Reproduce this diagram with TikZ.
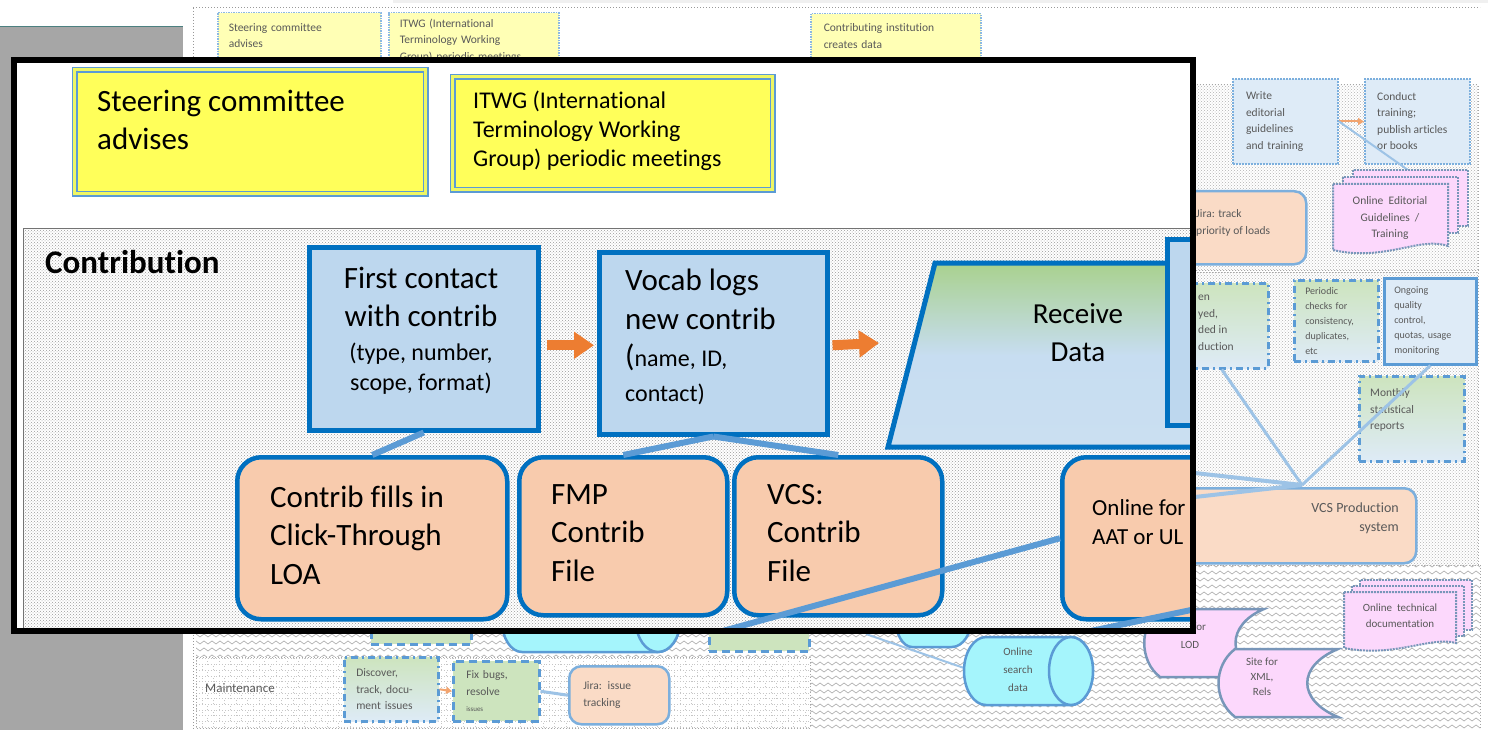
\documentclass[tikz,border=0pt]{standalone}
\usepackage{fontspec}
\setmainfont[Ligatures={NoCommon}]{Carlito}
\usetikzlibrary{arrows.meta, patterns, calc}

\definecolor{cblue}{RGB}{0,112,192}
\definecolor{lblue}{RGB}{189,215,238}
\definecolor{corange}{RGB}{248,203,173}
\definecolor{cyellow}{RGB}{255,255,90}
\definecolor{linkblue}{RGB}{91,155,213}
\definecolor{arrorange}{RGB}{237,125,49}
\definecolor{cgreen}{RGB}{169,209,142}
\definecolor{pgreen}{RGB}{205,228,190}
\definecolor{pblue}{RGB}{222,235,247}
\definecolor{cpink}{RGB}{252,216,252}
\definecolor{ccyan}{RGB}{165,245,252}
\definecolor{sidegray}{RGB}{166,166,166}
\definecolor{docedge}{RGB}{120,150,185}

\newcommand\bigtxt{\fontsize{31}{38.5}\selectfont}
\newcommand\midtxt{\fontsize{24}{30}\selectfont}
\newcommand\medtxt{\fontsize{24}{29}\selectfont}
\newcommand\bgtxt{\fontsize{11.5}{16.5}\selectfont}

\pgfdeclarepatternformonly{wavyzig}{\pgfqpoint{-1pt}{-1pt}}{\pgfqpoint{9pt}{8pt}}{\pgfqpoint{8pt}{7pt}}{%
  \pgfsetlinewidth{0.7pt}
  \pgfpathmoveto{\pgfqpoint{0pt}{2pt}}
  \pgfpathlineto{\pgfqpoint{4pt}{5pt}}
  \pgfpathlineto{\pgfqpoint{8pt}{2pt}}
  \pgfusepath{stroke}
}

\tikzset{
  yellowbox/.style={draw=linkblue, double=cyellow!80!cgreen, double distance=3pt, line width=1.5pt, fill=cyellow, anchor=north west},
  bluebox/.style={draw=cblue, line width=4.5pt, fill=lblue, anchor=north west},
  orangebox/.style={draw=cblue, line width=4.5pt, fill=corange, rounded corners=24pt, anchor=north west},
  bigtext/.style={font=\bigtxt, align=left, inner sep=0pt},
  link/.style={draw=linkblue, line width=6pt},
  flowarrow/.style={draw=arrorange, line width=10pt, -{Triangle[length=20pt,width=26pt]}},
  bgfont/.style={font=\bgtxt, text=black!65, align=left},
  bgyellow/.style={draw=linkblue!70, densely dotted, line width=1.5pt, fill=cyellow!45, anchor=north west},
  bgblue/.style={draw=linkblue!80, densely dotted, line width=2pt, fill=pblue, anchor=north west},
  bgsolid/.style={draw=linkblue, line width=2.5pt, fill=pblue, anchor=north west},
  bggreen/.style={draw=linkblue, line width=2.5pt, dash pattern=on 7pt off 4pt on 2pt off 4pt, top color=pgreen, bottom color=pblue, anchor=north west},
  bgdash/.style={draw=linkblue, line width=2.5pt, dash pattern=on 8pt off 5pt, fill=pgreen, anchor=north west},
  bgorange/.style={draw=linkblue!80, line width=2.5pt, fill=corange!70, rounded corners=12pt, anchor=north west},
  bglink/.style={draw=linkblue!60, line width=3pt},
  bgarrow/.style={draw=arrorange!70, line width=2pt, -{Triangle[length=6pt,width=7pt]}},
  docsheet/.style={draw=docedge, densely dotted, line width=2pt, fill=cpink},
  cyl/.style={draw=linkblue, line width=2.5pt, fill=ccyan},
  lane/.style={draw=gray!70, dotted, line width=1pt, preaction={fill=white}, pattern=crosshatch dots, pattern color=gray!60},
}

\begin{document}
\begin{tikzpicture}[x=1pt, y=-1pt]
\useasboundingbox (0,0) rectangle (1488,730);

% slide behind the callout
\fill[gray!12] (393,0) rectangle (1488,3);
\fill[sidegray] (0,27) rectangle (183,730);
\draw[gray!60!teal, line width=1pt] (0,27) -- (183,27);
\draw[gray!80, dotted, line width=1pt] (193,8) -- (1480,8);
\draw[gray!80, dotted, line width=1pt] (193,8) -- (193,730);

\node[bgyellow, bgfont, minimum width=163pt, minimum height=46pt, text width=141pt] (bgsteer) at (217,12) {Steering committee\\advises};
\node[bgyellow, bgfont, minimum width=170pt, minimum height=56pt, text width=148pt] (bgitwg) at (388,12) {ITWG (International\\Terminology Working\\Group) periodic meetings};
\node[bgyellow, bgfont, minimum width=170pt, minimum height=45pt, text width=144pt] (bgcontrib) at (810,13) {Contributing institution\\creates data};
\coordinate (bgfeed) at (798,62);
\draw[arrorange!50, line width=1pt] (bgfeed) -- (bgcontrib.south west);

\draw[lane] (1150,85) rectangle (1478,270);
\node[bgblue, bgfont, minimum width=105pt, minimum height=85pt, text width=79pt] (write) at (1232,78) {Write\\editorial\\guidelines\\and training};
\node[bgblue, minimum width=105pt, minimum height=85pt] (conduct) at (1364,78) {};
\node[bgfont, anchor=west, inner sep=0pt] (conducttxt) at (1377,121) {Conduct\\training;\\publish articles\\or books};
\draw[bgarrow] (write.east) -- (conduct.west);
\coordinate (edtop) at (1408,170);
\draw[bglink, line width=2pt] (write.east) -- (edtop);
\foreach \s in {20,10} \draw[docsheet] ({1333+\s},{184-0.7*\s}) rectangle ++(115,56);
\draw[docsheet] (1333,184) -- (1448,184) -- (1448,246) .. controls (1420,236) and (1385,262) .. (1333,250) -- cycle;
\node[bgfont, align=center] (edguide) at (1390,218) {Online\ \ Editorial\\Guidelines \ /\\Training};
\node[bgorange, minimum width=155pt, minimum height=73pt] (jiraload) at (1150,190) {};
\node[bgfont, anchor=west, inner sep=0pt] (jiraloadtxt) at (1196,223) {Jira: track\\priority of loads};

\draw[lane] (1150,272) rectangle (1478,565);
\node[bggreen, minimum width=117pt, minimum height=85pt] (loaded) at (1150,282) {};
\node[bgfont, anchor=west, inner sep=0pt] (loadedtxt) at (1198,323) {en\\yed,\\ded in\\duction};
\node[bggreen, font=\fontsize{10}{15}\selectfont, text=black!65, align=left, minimum width=84pt, minimum height=81pt, text width=62pt] (checks) at (1293,279) {Periodic\\checks for\\consistency,\\duplicates,\\etc};
\node[bgsolid, font=\fontsize{10}{15}\selectfont, text=black!65, align=left, minimum width=92pt, minimum height=86pt, text width=72pt] (quality) at (1383,277) {Ongoing\\quality\\control,\\quotas, usage\\monitoring};
\node[bggreen, minimum width=105pt, minimum height=85pt] (monthly) at (1358,375) {};
\node[bgfont, anchor=west, inner sep=0pt] (monthlytxt) at (1370,410) {Monthly\\statistical\\reports};
\node[bgorange, minimum width=265pt, minimum height=75pt] (vcsprod) at (1150,487) {};
\node[font=\fontsize{14}{19}\selectfont, text=black!65, align=right, anchor=east, inner sep=0pt] (vcsprodtxt) at (1399,518) {VCS Production\\system};
\coordinate (vcstop) at (1302,485);
\draw[bglink] (vcstop) -- ($(loaded.south)+(12,0)$);
\draw[bglink] (vcstop) -- (quality.south);
\draw[bglink, line width=4pt] (1150,468) -- (vcstop);
\draw[bglink, line width=4pt] (1150,502) -- (vcstop);

\fill[pattern=wavyzig, pattern color=gray!60] (196,565) rectangle (1480,730);
\draw[gray!70, dotted, line width=1pt] (1480,565) -- (1480,730);
\node[bgdash, minimum width=100pt, minimum height=43pt] (upleft) at (370,600) {};
\draw[cyl] (522,590) -- (658,590) arc[start angle=-90, end angle=90, x radius=22, y radius=31] -- (522,652) arc[start angle=90, end angle=270, x radius=20, y radius=31] -- cycle;
\draw[cyl] (658,621) ellipse [x radius=22, y radius=31];
\node[bgdash, minimum width=100pt, minimum height=50pt] (upright) at (708,600) {};

\draw[lane, pattern=bricks, pattern color=gray!45] (196,657) rectangle (810,728);
\node[bgfont, font=\fontsize{13}{16}\selectfont, anchor=west, inner sep=0pt] (maint) at (205,688) {Maintenance};
\node[bggreen, bgfont, minimum width=94pt, minimum height=64pt, text width=70pt] (discover) at (343,656) {Discover,\\track, docu-\\ment issues};
\node[bgdash, bgfont, minimum width=86pt, minimum height=60pt, text width=60pt] (fixbugs) at (452,660) {Fix bugs,\\resolve\\{\fontsize{7}{9}\selectfont issues}};
\node[bgorange, bgfont, minimum width=100pt, minimum height=58pt, text width=72pt] (jiraissue) at (568,665) {Jira: issue\\tracking};
\draw[bgarrow] (discover.east) -- (fixbugs.west);
\draw[bglink] (fixbugs.east) -- (jiraissue.west);

\coordinate (searchw) at (964,668);
\draw[bglink, line width=2pt] (866,634) -- (searchw);
\draw[cyl] (912,585) -- (952,585) arc[start angle=-90, end angle=90, x radius=20, y radius=31] -- (912,647) arc[start angle=90, end angle=270, x radius=17, y radius=31] -- cycle;
\draw[cyl] (986,637) -- (1071,637) arc[start angle=-90, end angle=90, x radius=22, y radius=34] -- (986,705) arc[start angle=90, end angle=270, x radius=22, y radius=34] -- cycle;
\draw[cyl] (1071,671) ellipse [x radius=22, y radius=34];
\node[bgfont, font=\fontsize{11}{18}\selectfont, align=center] (search) at (1018,670) {Online\\search\\data};

\draw[docsheet, solid, line width=2.5pt] (1160,609) -- (1264,609) .. controls (1226,625) and (1226,661) .. (1264,677) -- (1160,677) .. controls (1139,661) and (1139,625) .. (1160,609) -- cycle;
\node[bgfont, font=\fontsize{11}{18}\selectfont, align=center] (lod) at (1190,636) {Site for\\LOD};
\draw[docsheet, solid, line width=2.5pt] (1235,649) -- (1338,649) .. controls (1297,666) and (1297,700) .. (1338,717) -- (1235,717) .. controls (1213,700) and (1213,666) .. (1235,649) -- cycle;
\node[bgfont, font=\fontsize{11}{15}\selectfont, align=center] (xmlrels) at (1262,677) {Site for\\XML,\\Rels};

\foreach \s in {16,8} \draw[docsheet] ({1344+\s},{592-0.75*\s}) rectangle ++(112,50);
\draw[docsheet] (1344,592) -- (1456,592) -- (1456,643) .. controls (1430,636) and (1395,658) .. (1344,648) -- cycle;
\node[bgfont, font=\fontsize{11}{16}\selectfont, align=center] (techdoc) at (1400,616) {Online\ \ technical\\documentation};

% the enlarged callout
\coordinate (frameNW) at (13.5,60);
\coordinate (frameSE) at (1193,631);
\fill[white] (frameNW) rectangle (frameSE);
\begin{scope}
\clip (frameNW) rectangle (frameSE);
\node[yellowbox, minimum width=351pt, minimum height=124pt] (steer) at (74,69) {};
\node[yellowbox, minimum width=320pt, minimum height=113pt] (itwg) at (452,76) {};
\node[bigtext, anchor=west] (steertxt) at (97,120) {Steering committee\\advises};
\node[bigtext, font=\medtxt, anchor=west] (itwgtxt) at (473,131) {ITWG (International\\Terminology Working\\Group) periodic meetings};

\draw[lane, draw=gray!90!black, solid, pattern color=gray!80] (23,228) rectangle (1230,660);
\node[font=\fontsize{33}{38}\selectfont\bfseries, anchor=west, inner sep=0pt] (contriblbl) at (45,262) {Contribution};

\node[bluebox, minimum width=229pt, minimum height=183pt] (first) at (307,245) {};
\node[bigtext, align=center] (firsttxt) at (421,331) {First contact\\with contrib\\[-5pt]\midtxt (type, number,\\[-8pt]\midtxt scope, format)};
\node[bluebox, minimum width=228pt, minimum height=182pt] (vocab) at (597,250) {};
\node[bigtext, anchor=west] (vocabtxt) at (625,337) {Vocab logs\\new contrib\\[-1pt]\midtxt{\bigtxt(}name, ID,\\[-4pt]\midtxt contact)};

\draw[draw=cblue, line width=5pt, top color=cgreen, bottom color=lblue!80, middle color=lblue!85] (935,263) -- (1230,263) -- (1230,447) -- (888,447) -- cycle;
\node[bigtext, align=center, font=\fontsize{29}{38}\selectfont] (recvtxt) at (1078,333) {Receive\\Data};
\node[bluebox, minimum width=60pt, minimum height=186pt] (sidebox) at (1165,237) {};

\node[orangebox, minimum width=270pt, minimum height=162pt] (loa) at (235,455) {};
\node[orangebox, minimum width=208pt, minimum height=158pt] (fmp) at (517,455) {};
\node[orangebox, minimum width=208pt, minimum height=158pt] (vcs) at (732,455) {};
\node[orangebox, minimum width=200pt, minimum height=162pt] (online) at (1060,455) {};
\node[bigtext, anchor=west] (loatxt) at (270,535) {Contrib fills in\\Click-Through\\LOA};
\node[bigtext, anchor=west] (fmptxt) at (551,533) {FMP\\Contrib\\File};
\node[bigtext, anchor=west] (vcstxt) at (767,533) {VCS:\\Contrib\\File};
\node[bigtext, font=\fontsize{23}{29}\selectfont, anchor=west] (onlinetxt) at (1092,522) {Online for\\AAT or UL};

\draw[link] (first.south) -- (loa.north);
\draw[link] (vocab.south) -- (fmp.north);
\draw[link] (vocab.south) -- (vcs.north);
\coordinate (exitA) at (690,640);
\coordinate (exitB) at (1000,650);
\coordinate (entryB) at (1215,605);
\draw[link] (online.west) -- (exitA);
\draw[link] (entryB) -- (exitB);
\coordinate (recvin) at (879,343);
\draw[flowarrow] ($(first.east)+(6,6.5)$) -- ($(vocab.west)+(-3,2)$);
\draw[flowarrow] ($(vocab.east)+(3,2)$) -- (recvin);
\end{scope}
\draw[line width=6pt] (frameNW) rectangle (frameSE);
\end{tikzpicture}
\end{document}
